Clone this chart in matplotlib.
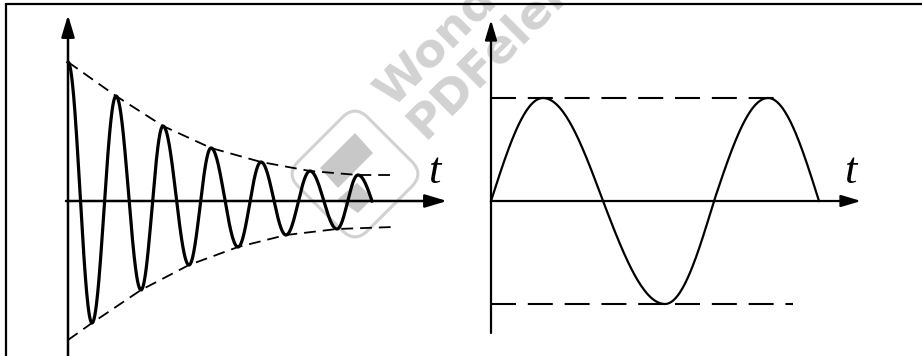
import numpy as np
import matplotlib
matplotlib.use("Agg")
import matplotlib.pyplot as plt
from matplotlib.patches import FancyBboxPatch, Polygon
from matplotlib.transforms import Affine2D

plt.rcParams['lines.scale_dashes'] = False

# ---------------- data ----------------
# damped oscillation: extrema positions (t) and values (amplitude, up = positive)
damped_t = [0, 24, 48, 73, 95, 121, 143, 170, 193, 218, 242, 269, 290, 304]
damped_a = [139, -122, 105, -89, 75, -64, 53, -46, 39, -34, 30, -28, 26, 0]
# envelope points
env_up_t = [0, 48, 95, 143, 193, 242, 290, 325]
env_up_a = [139, 105, 75, 53, 39, 30, 26, 26]
env_lo_t = [0, 24, 73, 121, 170, 218, 269, 325]
env_lo_a = [-139, -122, -89, -64, -46, -34, -28, -26]

# undamped oscillation: key points (zeros and extrema)
sine_t = [0, 52, 112, 174, 223, 277, 328]
sine_a = [0, 103, 0, -103, 0, 103, 0]
amp_line_up = [0, 294, 103]   # t start, t end, level
amp_line_lo = [0, 302, -103]

axis_label = "t"
watermark_lines = ["Wondershare", "PDFelement"]

# ---------------- helpers ----------------
def smooth_through(tk, ak, n=60):
    xs, ys = [], []
    for i in range(len(tk) - 1):
        t0, t1, a0, a1 = tk[i], tk[i + 1], ak[i], ak[i + 1]
        s = np.linspace(0, 1, n)
        if a0 == 0:
            y = a1 * np.sin(np.pi / 2 * s)
        elif a1 == 0:
            y = a0 * np.cos(np.pi / 2 * s)
        else:
            y = (a0 + a1) / 2 + (a0 - a1) / 2 * np.cos(np.pi * s)
        xs.append(t0 + (t1 - t0) * s)
        ys.append(y)
    return np.concatenate(xs), np.concatenate(ys)

W, H = 922, 356
fig = plt.figure(figsize=(W / 100, H / 100), dpi=100)
ax = fig.add_axes([0, 0, 1, 1])
ax.set_xlim(0, W)
ax.set_ylim(H, 0)
ax.axis('off')

# frame (top and left)
ax.plot([6, W], [4, 4], color='black', lw=1.6, solid_capstyle='butt', zorder=5)
ax.plot([6, 6], [3, H], color='black', lw=1.6, solid_capstyle='butt', zorder=5)

# ---------------- watermark ----------------
wm = '#d2d2d2'
cx, cy = 355, 174
side = 98
box = FancyBboxPatch((cx - side / 2, cy - side / 2), side, side,
                     boxstyle="round,pad=0,rounding_size=18",
                     fill=False, ec=wm, lw=2.2, zorder=1)
box.set_transform(Affine2D().rotate_deg_around(cx, cy, 45) + ax.transData)
ax.add_patch(box)
ax.add_patch(Polygon([(355, 133), (373, 153), (338, 188), (320, 168)],
                     closed=True, fc='#c8c8c8', ec='none', zorder=1))
ax.add_patch(Polygon([(357, 183), (373, 198), (358, 213), (338, 199)],
                     closed=True, fc='#c8c8c8', ec='none', zorder=1))
ax.text(392, 108, watermark_lines[0], rotation=45, rotation_mode='anchor',
        ha='left', va='baseline', fontsize=34, fontweight='bold',
        color=wm, family='DejaVu Sans', zorder=1)
ax.text(424, 140, watermark_lines[1], rotation=45, rotation_mode='anchor',
        ha='left', va='baseline', fontsize=34, fontweight='bold',
        color=wm, family='DejaVu Sans', zorder=1)

arrow_style = "-|>,head_length=0.6,head_width=0.18"

# ---------------- left panel ----------------
ox, oy = 68, 201
ax.annotate('', xy=(ox, 15), xytext=(ox, H),
            arrowprops=dict(arrowstyle=arrow_style, mutation_scale=22,
                            lw=1.8, color='black', shrinkA=0, shrinkB=0), zorder=4)
ax.annotate('', xy=(447, oy), xytext=(ox - 2, oy),
            arrowprops=dict(arrowstyle=arrow_style, mutation_scale=22,
                            lw=1.8, color='black', shrinkA=0, shrinkB=0), zorder=4)
x, y = smooth_through(damped_t, damped_a)
ax.plot(ox + x, oy - y, color='black', lw=2.3, zorder=3)
ax.plot(ox + np.array(env_up_t), oy - np.array(env_up_a), color='black', lw=1.3,
        linestyle=(0, (8.5, 5)), zorder=3)
ax.plot(ox + np.array(env_lo_t), oy - np.array(env_lo_a), color='black', lw=1.3,
        linestyle=(0, (8.5, 5)), zorder=3)
ax.text(434, 172, axis_label, fontsize=32, fontstyle='italic',
        family='Liberation Serif', ha='center', va='center', zorder=4)

# ---------------- right panel ----------------
ox2, oy2 = 491, 201
ax.annotate('', xy=(ox2, 20), xytext=(ox2, 333),
            arrowprops=dict(arrowstyle=arrow_style, mutation_scale=20,
                            lw=1.6, color='black', shrinkA=0, shrinkB=0), zorder=4)
ax.annotate('', xy=(861, oy2), xytext=(ox2, oy2),
            arrowprops=dict(arrowstyle=arrow_style, mutation_scale=20,
                            lw=1.6, color='black', shrinkA=0, shrinkB=0), zorder=4)
x2, y2 = smooth_through(sine_t, sine_a)
ax.plot(ox2 + x2, oy2 - y2, color='black', lw=1.6, zorder=3)
for line in (amp_line_up, amp_line_lo):
    ax.plot([ox2 + line[0], ox2 + line[1]], [oy2 - line[2], oy2 - line[2]],
            color='black', lw=1.5, linestyle=(0, (18, 8.5)), zorder=3)
ax.text(850, 172, axis_label, fontsize=32, fontstyle='italic',
        family='Liberation Serif', ha='center', va='center', zorder=4)

fig.savefig('out.png', dpi=100)
